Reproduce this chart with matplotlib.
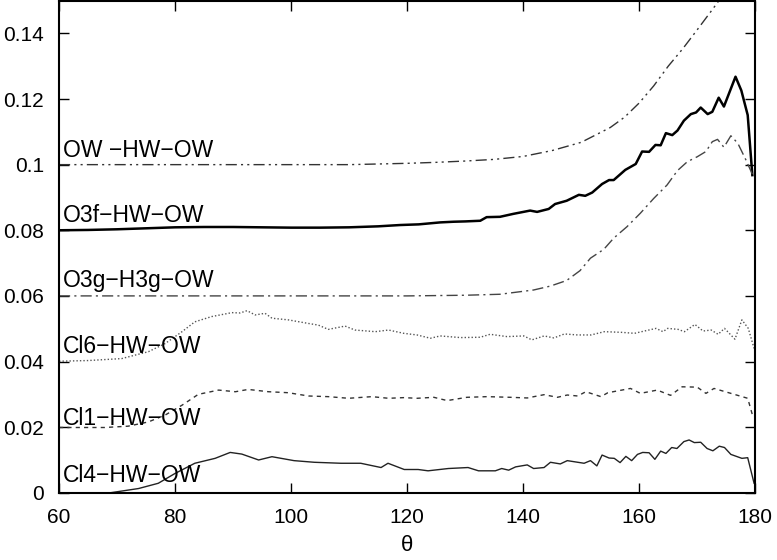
import numpy as np
import matplotlib
matplotlib.use("Agg")
import matplotlib.pyplot as plt

plt.rcParams['font.family'] = ['Liberation Sans', 'DejaVu Sans']

# OW -HW-OW
ow_x = [60, 70, 80, 90, 100, 110, 120, 125, 130, 135, 140, 145, 150, 155, 157.5,
        160, 162.5, 165, 167.5, 170, 172.5, 175]
ow_y = [0.1, 0.1, 0.1, 0.1, 0.1, 0.1, 0.1004, 0.1007, 0.1011, 0.1016, 0.1025, 0.1043,
        0.1068, 0.1113, 0.1145, 0.1188, 0.1240, 0.1300, 0.1353, 0.1411, 0.1470, 0.1530]

# O3f-HW-OW
o3f_x = [60, 65, 70, 75, 80, 85, 90, 95, 100, 105, 110, 115, 118.8, 122, 125.7, 128,
         130, 132.6, 133.7, 136, 138.3, 141.2, 142.4, 144.4, 145.5, 147.5, 149.6, 150.7,
         151.9, 153.6, 154.8, 155.6, 157.6, 159.4, 160.5, 161.7, 162.8, 163.7, 164.6,
         165.7, 166.6, 167.7, 168.9, 169.8, 170.6, 171.8, 172.6, 173.7, 174.6, 176.6,
         177.6, 178.7, 179.5]
o3f_y = [0.0800, 0.0801, 0.0803, 0.0806, 0.0809, 0.0810, 0.0810, 0.0809, 0.0808, 0.0808,
         0.0809, 0.0812, 0.0816, 0.0818, 0.0824, 0.0826, 0.0827, 0.0829, 0.0840, 0.0841,
         0.0850, 0.0860, 0.0856, 0.0865, 0.0880, 0.0890, 0.0908, 0.0905, 0.0915, 0.0941,
         0.0953, 0.0953, 0.0984, 0.1002, 0.1040, 0.1039, 0.1060, 0.1059, 0.1096, 0.1090,
         0.1104, 0.1134, 0.1154, 0.1159, 0.1174, 0.1154, 0.1161, 0.1204, 0.1177, 0.1268,
         0.1226, 0.1151, 0.0968]

# O3g-H3g-OW
o3g_x = [60, 80, 100, 120, 130, 136, 141.8, 144.7, 147.5, 149.8, 151.6, 153.9, 155.6,
         157.9, 160.2, 162.5, 164.8, 166.6, 168.3, 170.0, 171.5, 172.6, 173.5, 174.6,
         175.8, 177.0, 178.4, 179.7]
o3g_y = [0.0600, 0.0600, 0.0600, 0.0600, 0.0602, 0.0605, 0.0618, 0.0630, 0.0647, 0.0677,
         0.0715, 0.0742, 0.0776, 0.0811, 0.0852, 0.0897, 0.0938, 0.0982, 0.1009, 0.1024,
         0.1040, 0.1070, 0.1077, 0.1053, 0.1088, 0.1065, 0.1014, 0.0963]

# Cl6-HW-OW
cl6_x = [60, 65, 70.8, 75.4, 78.3, 81.2, 83.4, 86.3, 89.8, 91.2, 92.4, 93.8, 95.5, 96.7,
         99.5, 103, 104.7, 106.4, 109.3, 111, 114.5, 116.8, 119.4, 121.7, 124.0, 125.7,
         129.2, 132.6, 134.3, 137.2, 140.1, 141.5, 143.6, 145.3, 147.1, 149.4, 151.7,
         154.0, 156.9, 159.2, 160.9, 162.9, 164.1, 164.9, 166.7, 167.8, 169.6, 171.0,
         172.4, 173.6, 174.7, 176.5, 177.7, 178.8, 179.8]
cl6_y = [0.0401, 0.0403, 0.0409, 0.0430, 0.0455, 0.0491, 0.0521, 0.0537, 0.0549, 0.0548,
         0.0555, 0.0542, 0.0547, 0.0532, 0.0527, 0.0516, 0.0511, 0.0498, 0.0508, 0.0496,
         0.0491, 0.0496, 0.0486, 0.0481, 0.0471, 0.0478, 0.0473, 0.0474, 0.0483, 0.0476,
         0.0478, 0.0466, 0.0478, 0.0472, 0.0484, 0.0481, 0.0481, 0.0491, 0.0489, 0.0486,
         0.0493, 0.0501, 0.0491, 0.0501, 0.0498, 0.0491, 0.0513, 0.0493, 0.0496, 0.0483,
         0.0501, 0.0468, 0.0527, 0.0501, 0.0440]

# Cl1-HW-OW
cl1_x = [60, 67.9, 71.9, 75.4, 78.3, 81.2, 84.0, 87.5, 90.4, 92.6, 96.1, 99.5, 103.0,
         106.4, 109.9, 113.9, 116.8, 119.4, 121.7, 124.6, 126.9, 130.3, 133.8, 137.8,
         140.7, 143.6, 145.9, 147.6, 149.4, 150.8, 153.4, 154.6, 158.5, 160.2, 163.1,
         165.4, 167.4, 170.0, 171.5, 172.9, 175.8, 178.7, 179.6]
cl1_y = [0.0199, 0.0199, 0.0203, 0.0216, 0.0237, 0.0267, 0.0300, 0.0313, 0.0308, 0.0315,
         0.0308, 0.0305, 0.0295, 0.0293, 0.0288, 0.0293, 0.0288, 0.0290, 0.0288, 0.0291,
         0.0281, 0.0291, 0.0293, 0.0291, 0.0289, 0.0299, 0.0291, 0.0298, 0.0295, 0.0308,
         0.0293, 0.0305, 0.0318, 0.0303, 0.0313, 0.0297, 0.0323, 0.0322, 0.0303, 0.0318,
         0.0303, 0.0288, 0.0232]

# Cl4-HW-OW
cl4_x = [60, 68.8, 73.7, 77.1, 80.0, 83.4, 86.9, 89.5, 91.5, 94.4, 96.7, 100.5, 104.0, 108.6,
         112.0, 115.5, 116.7, 119.5, 121.9, 123.6, 127.1, 130.5, 132.3, 135.2, 136.3,
         137.5, 138.7, 140.7, 141.8, 143.6, 144.7, 146.4, 147.6, 150.5, 151.6, 152.7,
         153.6, 154.8, 155.7, 156.7, 157.7, 158.7, 159.7, 160.6, 161.7, 162.7, 163.7,
         164.6, 165.6, 166.5, 167.7, 168.6, 169.5, 170.6, 171.7, 172.7, 173.8, 174.7,
         175.8, 177.7, 178.7, 179.8]
cl4_y = [0.0000, 0.0000, 0.0013, 0.0029, 0.0059, 0.0090, 0.0105, 0.0123, 0.0118, 0.0100, 0.0110,
         0.0098, 0.0093, 0.0090, 0.0090, 0.0077, 0.0090, 0.0071, 0.0071, 0.0067, 0.0074,
         0.0077, 0.0067, 0.0067, 0.0074, 0.0069, 0.0079, 0.0085, 0.0074, 0.0077, 0.0093,
         0.0088, 0.0098, 0.0090, 0.0098, 0.0082, 0.0115, 0.0106, 0.0105, 0.0092, 0.0111,
         0.0098, 0.0117, 0.0123, 0.0122, 0.0102, 0.0127, 0.0120, 0.0138, 0.0135, 0.0156,
         0.0161, 0.0153, 0.0154, 0.0135, 0.0128, 0.0142, 0.0138, 0.0117, 0.0105, 0.0107,
         0.0029]

labels = ['OW \u2212HW\u2212OW', 'O3f\u2212HW\u2212OW', 'O3g\u2212H3g\u2212OW',
          'Cl6\u2212HW\u2212OW', 'Cl1\u2212HW\u2212OW', 'Cl4\u2212HW\u2212OW']
label_y = [0.1022, 0.0826, 0.0626, 0.0425, 0.0206, 0.0034]

yticks = [0, 0.02, 0.04, 0.06, 0.08, 0.1, 0.12, 0.14]
ytick_labels = ['0', '0.02', '0.04', '0.06', '0.08', '0.1', '0.12', '0.14']
xticks = [60, 80, 100, 120, 140, 160, 180]

fig = plt.figure(figsize=(7.77, 5.60), dpi=100)
ax = fig.add_axes([0.076, 0.12, 0.896, 0.879])

ax.plot(ow_x, ow_y, color='#333333', lw=1.0, linestyle=(0, (8, 3, 1.5, 3, 1.5, 3)))
ax.plot(o3f_x, o3f_y, color='black', lw=1.8)
ax.plot(o3g_x, o3g_y, color='#444444', lw=1.0, linestyle=(0, (8, 3, 1.5, 3)))
ax.plot(cl6_x, cl6_y, color='#555555', lw=1.0, linestyle=(0, (1, 1.5)))
ax.plot(cl1_x, cl1_y, color='#333333', lw=1.0, linestyle=(0, (3, 3)))
ax.plot(cl4_x, cl4_y, color='#222222', lw=1.0)

for lab, ly in zip(labels, label_y):
    ax.text(60.65, ly, lab, fontsize=16.5, va='baseline', ha='left')

ax.set_xlim(60, 180)
ax.set_ylim(0, 0.15)
ax.set_xticks(xticks)
ax.set_yticks(yticks)
ax.set_yticklabels(ytick_labels)
ax.tick_params(direction='in', top=True, right=True, length=7, width=1,
               labelsize=15, pad=11)
for s in ax.spines.values():
    s.set_linewidth(1.5)
ax.set_xlabel('\u03b8', fontsize=16, labelpad=6)

fig.savefig('out.png', dpi=100)
